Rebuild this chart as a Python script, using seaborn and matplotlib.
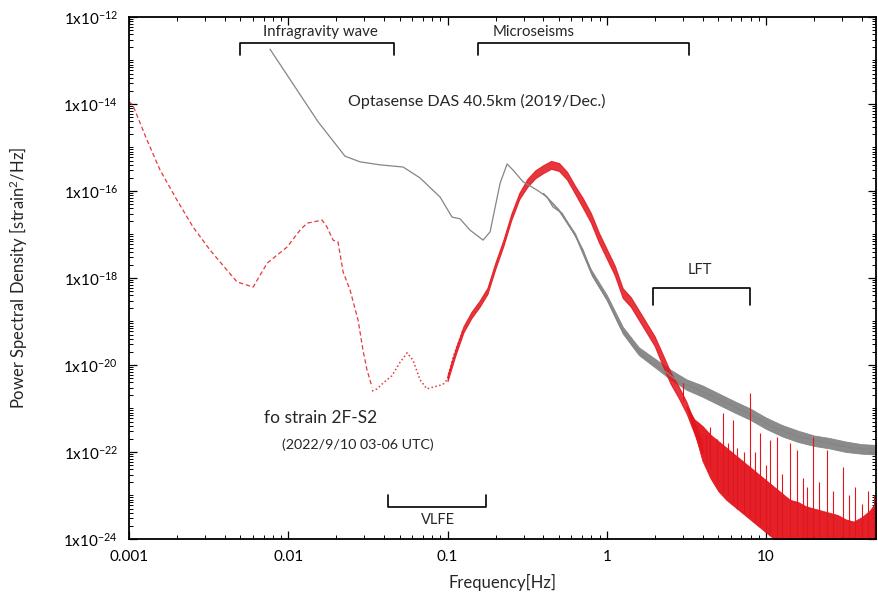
import numpy as np
import pandas as pd
import matplotlib
matplotlib.use("Agg")
import matplotlib.pyplot as plt
import matplotlib.ticker as mticker
import seaborn as sns

# ---- valores (log10 de frecuencia [Hz] y de PSD [strain^2/Hz]) ----
# Optasense DAS: tramo suave
das_logf = [-2.115, -1.945, -1.813, -1.644, -1.55, -1.424, -1.279, -1.173, -1.047, -0.972,
            -0.922, -0.859, -0.777, -0.733, -0.670, -0.626, -0.589, -0.526, -0.438, -0.375,
            -0.338, -0.281, -0.218, -0.149, -0.086, 0.003, 0.085, 0.165, 0.253, 0.378,
            0.460, 0.542, 0.711, 0.881, 1.044, 1.214, 1.383, 1.546, 1.697]
das_logp = [-12.74, -13.68, -14.41, -15.20, -15.33, -15.40, -15.45, -15.70, -16.14, -16.60,
            -16.64, -16.90, -17.13, -16.94, -15.82, -15.38, -15.52, -15.79, -15.98, -16.14,
            -16.37, -16.51, -16.90, -17.36, -17.98, -18.51, -19.13, -19.55, -19.88, -20.18,
            -20.41, -20.51, -20.80, -21.10, -21.43, -21.66, -21.79, -21.91, -21.95]
# Optasense DAS: banda de ruido
das_band_logf = [-0.40, -0.30, -0.20, -0.10, 0.00, 0.10, 0.20, 0.30, 0.40, 0.50, 0.60,
                 0.70, 0.80, 0.90, 1.00, 1.10, 1.20, 1.30, 1.40, 1.50, 1.60, 1.70]
das_band_hi = [-16.04, -16.43, -16.97, -17.80, -18.39, -19.12, -19.59, -19.85, -20.11, -20.33, -20.47,
               -20.65, -20.83, -21.00, -21.21, -21.38, -21.51, -21.62, -21.68, -21.76, -21.82, -21.84]
das_band_lo = [-16.06, -16.47, -17.03, -17.90, -18.51, -19.28, -19.77, -20.05, -20.33, -20.57, -20.73,
               -20.91, -21.09, -21.26, -21.47, -21.64, -21.77, -21.86, -21.92, -22.00, -22.04, -22.06]

# fo strain 2F-S2: tramo de baja frecuencia (discontinuo)
fo_low_logf = [-3.0, -2.977, -2.887, -2.805, -2.699, -2.598, -2.491, -2.385, -2.322, -2.221,
               -2.133, -2.008, -1.926, -1.882, -1.788, -1.757, -1.719, -1.688, -1.656, -1.612,
               -1.562, -1.531, -1.506, -1.474]
fo_low_logp = [-13.95, -14.02, -14.83, -15.52, -16.21, -16.83, -17.36, -17.82, -18.09, -18.21,
               -17.66, -17.29, -16.90, -16.74, -16.67, -16.83, -17.13, -17.17, -17.86, -18.28,
               -18.97, -19.66, -20.11, -20.51]
# fo strain: tramo de puntos dispersos (VLFE)
fo_mid_logf = [-1.474, -1.443, -1.40, -1.35, -1.30, -1.254, -1.217, -1.173, -1.13, -1.091,
               -1.03, -1.003, -0.965, -0.903]
fo_mid_logp = [-20.60, -20.55, -20.40, -20.25, -19.95, -19.72, -19.89, -20.34, -20.55, -20.51,
               -20.45, -20.34, -19.82, -19.20]
# fo strain: nube de puntos del pico microsismico
fo_band_logf = [-1.00, -0.95, -0.90, -0.85, -0.80, -0.75, -0.70, -0.65, -0.60, -0.55, -0.50,
                -0.45, -0.40, -0.35, -0.30, -0.25, -0.20, -0.15, -0.10, -0.05, 0.00, 0.05,
                0.10, 0.15, 0.20, 0.25, 0.30, 0.35, 0.40, 0.45, 0.50, 0.55, 0.60]
fo_band_hi = [-20.23, -19.63, -19.11, -18.78, -18.53, -18.23, -17.65, -17.13, -16.53, -16.05, -15.73,
              -15.53, -15.41, -15.31, -15.36, -15.56, -15.88, -16.17, -16.51, -16.96, -17.34, -17.72,
              -18.24, -18.44, -18.74, -19.04, -19.34, -19.75, -20.17, -20.49, -20.85, -21.32, -21.77]
fo_band_lo = [-20.37, -19.77, -19.25, -18.92, -18.67, -18.37, -17.79, -17.27, -16.67, -16.19, -15.91,
              -15.71, -15.59, -15.49, -15.54, -15.74, -16.06, -16.39, -16.73, -17.18, -17.56, -17.94,
              -18.46, -18.66, -18.96, -19.26, -19.56, -20.01, -20.43, -20.75, -21.11, -21.58, -22.03]
# fo strain: alta frecuencia (cuerpo y picos)
fo_hf_logf = [0.50, 0.55, 0.60, 0.65, 0.70, 0.75, 0.80, 0.85, 0.90, 0.95, 1.00, 1.05, 1.10,
              1.15, 1.20, 1.25, 1.30, 1.35, 1.40, 1.45, 1.50, 1.55, 1.60, 1.65, 1.70]
fo_hf_hi = [-20.95, -21.25, -21.40, -21.60, -21.75, -21.90, -22.05, -22.20, -22.35, -22.50, -22.65, -22.80, -22.95,
            -23.10, -23.15, -23.25, -23.30, -23.35, -23.40, -23.45, -23.55, -23.60, -23.50, -23.35, -23.10]
fo_hf_lo = [-20.98, -21.55, -22.20, -22.60, -22.90, -23.10, -23.25, -23.40, -23.55, -23.70, -23.85, -24.00, -24.60,
            -24.60, -24.60, -24.60, -24.60, -24.60, -24.60, -24.60, -24.60, -24.60, -24.60, -24.60, -24.60]
spike_logf = [0.479, 0.62, 0.648, 0.69, 0.730, 0.76, 0.793, 0.82, 0.86, 0.899, 0.93, 0.962,
              1.00, 1.025, 1.069, 1.10, 1.151, 1.195, 1.23, 1.26, 1.295, 1.33, 1.383, 1.42,
              1.483, 1.52, 1.56, 1.60, 1.64, 1.68, 1.69]
spike_top = [-20.41, -21.60, -21.43, -21.70, -21.10, -21.80, -21.26, -21.90, -22.00, -20.64, -22.00, -21.56,
             -22.30, -21.72, -21.66, -22.50, -21.79, -21.95, -22.60, -22.80, -21.66, -22.70, -21.95, -22.90,
             -22.34, -23.00, -22.80, -23.20, -22.90, -23.00, -22.60]
spike_base = [-20.85, -22.30, -22.40, -22.70, -22.90, -23.00, -23.20, -23.30, -23.40, -23.50, -23.60, -23.70,
              -23.85, -23.90, -24.00, -24.60, -24.60, -24.60, -24.60, -24.60, -24.60, -24.60, -24.60, -24.60,
              -24.60, -24.60, -24.60, -24.60, -24.60, -24.60, -24.60]

x_ticks = [0.001, 0.01, 0.1, 1, 10]
x_tick_labels = ["0.001", "0.01", "0.1", "1", "10"]
y_exps = [-12, -14, -16, -18, -20, -22, -24]

# rangos de las bandas anotadas (Hz) y nivel de la llave (PSD)
rangos = {
    "Infragravity wave": (0.005, 0.046, 2.5e-13, 1.35e-13),
    "Microseisms": (0.156, 3.28, 2.5e-13, 1.35e-13),
    "LFT": (1.95, 7.9, 5.9e-19, 2.4e-19),
    "VLFE": (0.042, 0.175, 5.5e-24, 1.0e-23),
}

ROJO = "#e3141c"
GRIS = "#858585"

sns.set_theme(style="ticks")
plt.rcParams["font.family"] = ["Lato", "DejaVu Sans"]
plt.rcParams["mathtext.fontset"] = "custom"
plt.rcParams["mathtext.rm"] = "Lato"
plt.rcParams["mathtext.it"] = "Lato:italic"
plt.rcParams["mathtext.bf"] = "Lato:bold"

def a_lineal(v):
    return 10 ** np.asarray(v, dtype=float)

df_das = pd.DataFrame({"f": a_lineal(das_logf), "p": a_lineal(das_logp)})
df_low = pd.DataFrame({"f": a_lineal(fo_low_logf), "p": a_lineal(fo_low_logp)})
df_mid = pd.DataFrame({"f": a_lineal(fo_mid_logf), "p": a_lineal(fo_mid_logp)})

fig = plt.figure(figsize=(8.79, 5.97), dpi=100)
ax = fig.add_axes([0.1468, 0.0972, 0.8498, 0.8744])
ax.set_xscale("log")
ax.set_yscale("log")

# DAS
ax.fill_between(a_lineal(das_band_logf), a_lineal(das_band_lo), a_lineal(das_band_hi),
                color=GRIS, lw=0.6, alpha=0.95)
sns.lineplot(data=df_das, x="f", y="p", ax=ax, color=GRIS, lw=0.9, estimator=None, sort=False)

# fo strain
sns.lineplot(data=df_low, x="f", y="p", ax=ax, color=ROJO, lw=0.9, alpha=0.85,
             estimator=None, sort=False, linestyle=(0, (3.5, 2.2)))
sns.lineplot(data=df_mid, x="f", y="p", ax=ax, color=ROJO, lw=1.1, alpha=0.85,
             estimator=None, sort=False, linestyle=(0, (1, 1.6)))
ax.fill_between(a_lineal(fo_band_logf), a_lineal(fo_band_lo), a_lineal(fo_band_hi),
                color=ROJO, lw=0.8, alpha=0.85)
ax.fill_between(a_lineal(fo_hf_logf), a_lineal(fo_hf_lo), a_lineal(fo_hf_hi),
                color=ROJO, lw=0.6, alpha=0.95)
ax.vlines(a_lineal(spike_logf), a_lineal(spike_top), a_lineal(spike_base), color=ROJO, lw=0.8)

# llaves de las bandas
for nombre, (f1, f2, y_linea, y_punta) in rangos.items():
    ax.plot([f1, f1, f2, f2], [y_punta, y_linea, y_linea, y_punta], color="black", lw=1.2)

ax.text(0.00695, 4.5e-13, "Infragravity wave", fontsize=10.8, va="center", ha="left")
ax.text(0.1905, 4.5e-13, "Microseisms", fontsize=10.8, va="center", ha="left")
ax.text(0.0237, 1.17e-14, "Optasense DAS 40.5km (2019/Dec.)", fontsize=11.5, va="center", ha="left")
ax.text(0.00705, 6.0e-22, "fo strain 2F-S2", fontsize=12.5, va="center", ha="left")
ax.text(0.00914, 1.45e-22, "(2022/9/10 03-06 UTC)", fontsize=10.3, va="center", ha="left")
ax.text(0.0871, 2.75e-24, "VLFE", fontsize=10.5, va="center", ha="center")
ax.text(3.85, 1.5e-18, "LFT", fontsize=10.5, va="center", ha="center")

ax.set_xlim(0.001, 49)
ax.set_ylim(1e-24, 1e-12)

ax.xaxis.set_major_locator(mticker.FixedLocator(x_ticks))
ax.xaxis.set_major_formatter(mticker.FixedFormatter(x_tick_labels))
ax.xaxis.set_minor_locator(mticker.LogLocator(base=10, subs=np.arange(2, 10), numticks=100))
ax.xaxis.set_minor_formatter(mticker.NullFormatter())

ax.yaxis.set_major_locator(mticker.FixedLocator([10.0 ** e for e in y_exps]))
ax.yaxis.set_major_formatter(mticker.FuncFormatter(
    lambda v, _: "1x10$^{%d}$" % int(round(np.log10(v)))))
ax.yaxis.set_minor_locator(mticker.LogLocator(base=10, subs=np.arange(1, 10), numticks=100))
ax.yaxis.set_minor_formatter(mticker.NullFormatter())

ax.tick_params(which="both", direction="in", top=True, right=True, colors="black", labelsize=11)
ax.tick_params(which="major", length=6, width=0.9)
ax.tick_params(which="minor", length=3, width=0.7)
ax.tick_params(axis="x", which="major", pad=8)
ax.tick_params(axis="y", which="major", pad=8)
for s in ax.spines.values():
    s.set_linewidth(1.3)
    s.set_color("black")

ax.set_xlabel("Frequency[Hz]", fontsize=12)
ax.set_ylabel("Power Spectral Density [strain$^2$/Hz]", fontsize=12)
ax.xaxis.set_label_coords(0.5, -0.067)
ax.yaxis.set_label_coords(-0.1325, 0.50)

fig.savefig("out.png", dpi=100)
